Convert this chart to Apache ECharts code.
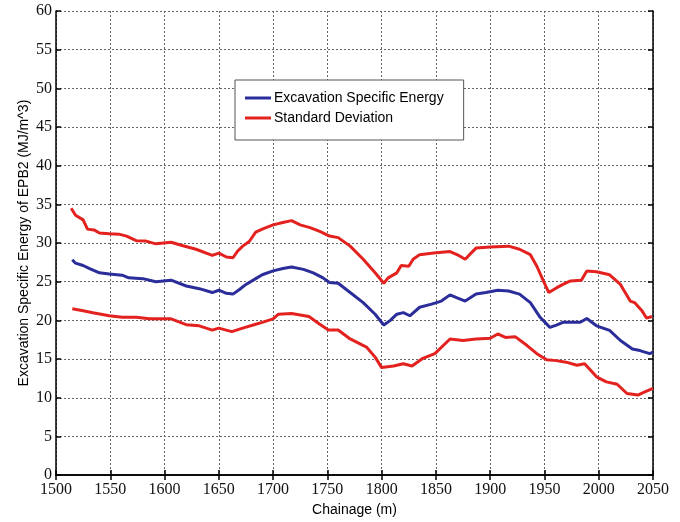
<!DOCTYPE html>
<html>
<head>
<meta charset="utf-8">
<script src="https://cdn.jsdelivr.net/npm/echarts@6/dist/echarts.min.js"></script>
<style>html,body{margin:0;padding:0;background:#fff}#c{width:680px;height:522px}</style>
</head>
<body>
<div id="c"></div>
<script>
const xTicks = [1500,1550,1600,1650,1700,1750,1800,1850,1900,1950,2000,2050];
const yTicks = [0,5,10,15,20,25,30,35,40,45,50,55,60];
const seriesNames = ['Excavation Specific Energy','Standard Deviation'];

const eseX = [1515,1518,1525,1531,1540,1549,1561,1567,1580,1592,1606,1620,1632,1644,1650,1657,1663,1669,1675,1684,1690,1700,1709,1717,1728,1737,1746,1752,1760,1771,1783,1794,1802,1808,1814,1820,1826,1835,1846,1855,1863,1869,1877,1887,1896,1907,1917,1927,1937,1946,1955,1961,1967,1974,1983,1989,1998,2010,2020,2031,2038,2047,2050];
const eseY = [27.85,27.4,27.1,26.7,26.15,26.0,25.85,25.5,25.4,25.0,25.2,24.45,24.1,23.6,23.9,23.5,23.4,24.0,24.65,25.4,25.9,26.4,26.7,26.9,26.6,26.15,25.5,24.9,24.8,23.6,22.3,20.8,19.4,20.0,20.8,21.0,20.6,21.7,22.1,22.5,23.3,22.95,22.5,23.4,23.6,23.9,23.8,23.4,22.3,20.4,19.1,19.4,19.75,19.75,19.75,20.25,19.3,18.7,17.4,16.3,16.1,15.7,15.9];

const upperX = [1514,1518,1525,1529,1535,1540,1549,1558,1565,1574,1583,1592,1606,1617,1629,1644,1650,1657,1663,1667,1672,1678,1684,1690,1700,1709,1717,1725,1734,1743,1752,1760,1771,1783,1794,1802,1806,1814,1818,1825,1829,1835,1848,1863,1871,1877,1881,1887,1900,1917,1927,1937,1943,1949,1954,1961,1967,1974,1984,1989,1998,2010,2020,2029,2033,2040,2044,2049];
const upperY = [34.5,33.6,33.0,31.8,31.7,31.3,31.2,31.15,30.9,30.3,30.25,29.9,30.1,29.65,29.2,28.4,28.7,28.2,28.1,28.9,29.6,30.2,31.4,31.8,32.35,32.65,32.9,32.35,32.0,31.5,30.9,30.7,29.6,27.9,26.15,24.8,25.5,26.15,27.1,27.0,27.9,28.5,28.7,28.9,28.4,27.9,28.5,29.35,29.5,29.6,29.2,28.5,27.0,25.1,23.6,24.2,24.65,25.1,25.2,26.4,26.3,25.9,24.65,22.5,22.3,21.2,20.3,20.5];

const lowerX = [1515,1525,1534,1549,1561,1574,1586,1606,1620,1632,1644,1650,1662,1672,1684,1690,1700,1705,1717,1733,1743,1751,1760,1771,1786,1794,1800,1811,1820,1828,1838,1849,1863,1875,1887,1900,1907,1914,1923,1934,1943,1952,1961,1970,1980,1987,1998,2007,2017,2026,2036,2043,2050];
const lowerY = [21.5,21.25,21.0,20.6,20.4,20.4,20.2,20.2,19.45,19.3,18.75,19.0,18.55,19.0,19.5,19.75,20.2,20.8,20.9,20.5,19.5,18.75,18.75,17.6,16.55,15.25,13.9,14.1,14.4,14.1,15.1,15.7,17.6,17.4,17.6,17.7,18.25,17.8,17.9,16.75,15.7,14.9,14.8,14.6,14.2,14.4,12.7,12.05,11.75,10.55,10.35,10.8,11.2];

const zip = (xs, ys) => xs.map((x, i) => [x, ys[i]]);
const RED = '#e3221f', BLUE = '#2b2d9a';

const tickFont = {fontFamily: 'Liberation Serif', fontSize: 16, color: '#111'};
const axisLineStyle = {show: true, lineStyle: {color: '#000', width: 1.5}};
const tickStyle = {show: true, inside: true, length: 5, lineStyle: {color: '#000', width: 1.5}};
const gridLine = {show: true, lineStyle: {color: '#666', type: [2, 2], width: 1}};

const chart = echarts.init(document.getElementById('c'), null, {renderer: 'canvas'});
chart.setOption({
  animation: false,
  backgroundColor: '#fff',
  grid: {left: 56, right: 27, top: 11, bottom: 43, containLabel: false},
  legend: {
    data: seriesNames,
    orient: 'vertical',
    left: 235, top: 80,
    itemWidth: 26, itemHeight: 3,
    itemGap: 6,
    padding: [11, 20, 15, 10],
    borderColor: '#555', borderWidth: 1,
    backgroundColor: '#fff',
    icon: 'rect',
    textStyle: {fontFamily: 'Liberation Sans', fontSize: 14, color: '#000', padding: [0, 0, 0, -2]}
  },
  xAxis: [{
    type: 'value', min: 1500, max: 2050, interval: 50,
    name: 'Chainage (m)', nameLocation: 'middle', nameGap: 27,
    nameTextStyle: {fontFamily: 'Liberation Sans', fontSize: 14, color: '#000'},
    axisLine: axisLineStyle, axisTick: tickStyle,
    axisLabel: Object.assign({margin: 7, formatter: v => String(v)}, tickFont),
    splitLine: gridLine
  }, {
    type: 'value', min: 1500, max: 2050, interval: 50, position: 'top',
    axisLine: axisLineStyle, axisTick: tickStyle, axisLabel: {show: false}, splitLine: {show: false}
  }],
  yAxis: [{
    type: 'value', min: 0, max: 60, interval: 5,
    name: 'Excavation Specific Energy of EPB2 (MJ/m^3)', nameLocation: 'middle', nameGap: 25,
    nameMoveOverlap: false,
    nameTextStyle: {fontFamily: 'Liberation Sans', fontSize: 14, color: '#000'},
    axisLine: axisLineStyle, axisTick: tickStyle,
    axisLabel: Object.assign({margin: 4, formatter: v => String(v)}, tickFont),
    splitLine: gridLine
  }, {
    type: 'value', min: 0, max: 60, interval: 5, position: 'right',
    axisLine: axisLineStyle, axisTick: tickStyle, axisLabel: {show: false}, splitLine: {show: false}
  }],
  series: [
    {name: seriesNames[0], type: 'line', data: zip(eseX, eseY), showSymbol: false, color: BLUE, lineStyle: {width: 3, color: BLUE}},
    {name: seriesNames[1], type: 'line', data: zip(upperX, upperY), showSymbol: false, color: RED, lineStyle: {width: 3, color: RED}},
    {name: seriesNames[1], type: 'line', data: zip(lowerX, lowerY), showSymbol: false, color: RED, lineStyle: {width: 3, color: RED}}
  ]
});
</script>
</body>
</html>
